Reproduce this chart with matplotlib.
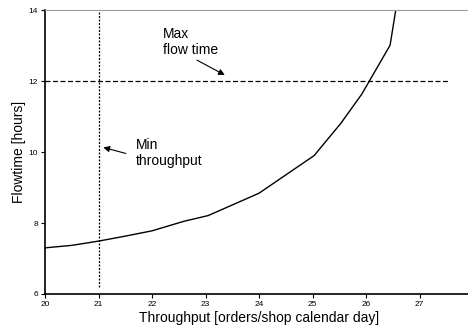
import matplotlib.pyplot as plt

plt.rcParams['font.family'] = ['Liberation Sans', 'DejaVu Sans']

throughput = [20.0, 20.5, 21.0, 21.5, 22.0, 22.6, 23.05, 24.0, 25.03, 25.53, 25.92, 26.45, 26.62]
flowtime = [7.30, 7.37, 7.49, 7.63, 7.78, 8.05, 8.21, 8.84, 9.90, 10.81, 11.63, 13.01, 14.6]

max_flow = 12
min_thr = 21

fig = plt.figure(figsize=(4.68, 3.34), dpi=100)
ax = fig.add_axes([0.0962, 0.1198, 0.9145, 0.850])

ax.plot(throughput, flowtime, color='black', lw=1.0)
ax.plot([20, 27.54], [max_flow, max_flow], color='black', lw=0.9, dashes=(4, 2))
ax.plot([min_thr, min_thr], [6.2, 14], color='black', lw=0.9, dashes=(1.6, 1.2))

arrow = dict(arrowstyle='-|>', color='black', lw=0.8, shrinkA=0, shrinkB=0, mutation_scale=9)
ax.text(22.2, 13.1, 'Max\nflow time', fontsize=10, va='center', ha='left')
ax.annotate('', xy=(23.36, 12.17), xytext=(22.84, 12.59), arrowprops=arrow)
ax.text(21.7, 9.98, 'Min\nthroughput', fontsize=10, va='center', ha='left')
ax.annotate('', xy=(21.09, 10.13), xytext=(21.51, 9.96), arrowprops=arrow)

ax.set_xlim(20, 28)
ax.set_ylim(6, 14)
ax.set_xticks([20, 21, 22, 23, 24, 25, 26, 27])
ax.set_yticks([6, 8, 10, 12, 14])
ax.tick_params(labelsize=6, length=3, width=0.8, direction='out', pad=2)
ax.set_xlabel('Throughput [orders/shop calendar day]', fontsize=10, labelpad=2)
ax.set_ylabel('Flowtime [hours]', fontsize=10, labelpad=2)

ax.spines['top'].set_color('#999999')
ax.spines['right'].set_visible(False)
ax.spines['left'].set_linewidth(1.2)
ax.spines['bottom'].set_linewidth(1.2)

fig.savefig('out.png', dpi=100)
